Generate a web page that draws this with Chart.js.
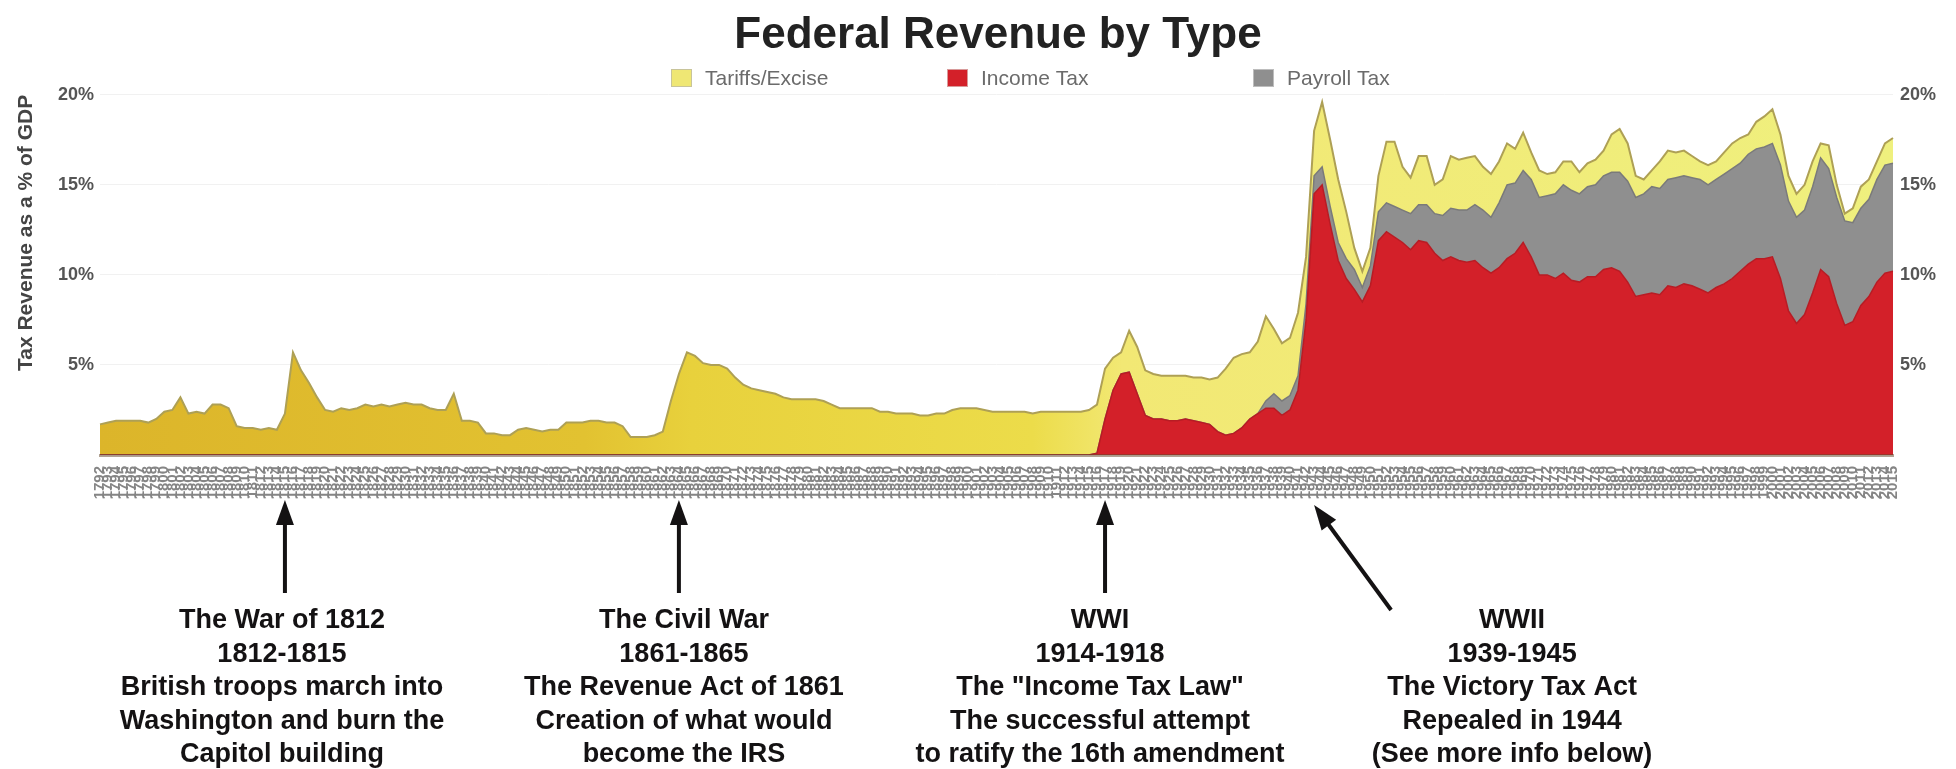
<!DOCTYPE html>
<html>
<head>
<meta charset="utf-8">
<script src="https://cdn.jsdelivr.net/npm/chart.js@4.4.1/dist/chart.umd.min.js"></script>
<style>
html,body{margin:0;padding:0;overflow:hidden;background:#fff;}
#wrap{width:1996px;height:769px;}
canvas{display:block;}
</style>
</head>
<body>
<div id="wrap"><canvas id="c" width="1996" height="769"></canvas></div>
<script>
// ---------- DATA ----------
const years = [
  1792,1793,1794,1795,1796,1797,1798,1799,
  1800,1801,1802,1803,1804,1805,1806,1807,1808,1809,
  1810,1811,1812,1813,1814,1815,1816,1817,1818,1819,
  1820,1821,1822,1823,1824,1825,1826,1827,1828,1829,
  1830,1831,1832,1833,1834,1835,1836,1837,1838,1839,
  1840,1841,1842,1843,1844,1845,1846,1847,1848,1849,
  1850,1851,1852,1853,1854,1855,1856,1857,1858,1859,
  1860,1861,1862,1863,1864,1865,1866,1867,1868,1869,
  1870,1871,1872,1873,1874,1875,1876,1877,1878,1879,
  1880,1881,1882,1883,1884,1885,1886,1887,1888,1889,
  1890,1891,1892,1893,1894,1895,1896,1897,1898,1899,
  1900,1901,1902,1903,1904,1905,1906,1907,1908,1909,
  1910,1911,1912,1913,1914,1915,1916,1917,1918,1919,
  1920,1921,1922,1923,1924,1925,1926,1927,1928,1929,
  1930,1931,1932,1933,1934,1935,1936,1937,1938,1939,
  1940,1941,1942,1943,1944,1945,1946,1947,1948,1949,
  1950,1951,1952,1953,1954,1955,1956,1957,1958,1959,
  1960,1961,1962,1963,1964,1965,1966,1967,1968,1969,
  1970,1971,1972,1973,1974,1975,1976,1977,1978,1979,
  1980,1981,1982,1983,1984,1985,1986,1987,1988,1989,
  1990,1991,1992,1993,1994,1995,1996,1997,1998,1999,
  2000,2001,2002,2003,2004,2005,2006,2007,2008,2009,
  2010,2011,2012,2013,2014,2015
];

// % of GDP
const tariffsExcise = [
  1.7,1.8,1.9,1.9,1.9,1.9,1.8,2.0,
  2.4,2.5,3.2,2.3,2.4,2.3,2.8,2.8,2.6,1.6,
  1.5,1.5,1.4,1.5,1.4,2.3,5.7,4.7,4.0,3.2,
  2.5,2.4,2.6,2.5,2.6,2.8,2.7,2.8,2.7,2.8,
  2.9,2.8,2.8,2.6,2.5,2.5,3.4,1.9,1.9,1.8,
  1.2,1.2,1.1,1.1,1.4,1.5,1.4,1.3,1.4,1.4,
  1.8,1.8,1.8,1.9,1.9,1.8,1.8,1.6,1.0,1.0,
  1.0,1.1,1.3,3.0,4.5,5.7,5.5,5.1,5.0,5.0,
  4.8,4.3,3.9,3.7,3.6,3.5,3.4,3.2,3.1,3.1,
  3.1,3.1,3.0,2.8,2.6,2.6,2.6,2.6,2.6,2.4,
  2.4,2.3,2.3,2.3,2.2,2.2,2.3,2.3,2.5,2.6,
  2.6,2.6,2.5,2.4,2.4,2.4,2.4,2.4,2.3,2.4,
  2.4,2.4,2.4,2.4,2.4,2.5,2.7,2.8,1.8,1.2,
  2.3,2.6,2.5,2.5,2.4,2.5,2.5,2.4,2.4,2.5,
  2.5,3.0,3.7,4.2,4.1,3.7,4.0,4.7,3.6,3.2,
  3.2,3.5,2.6,2.5,3.6,3.7,3.5,2.6,1.2,0.9,
  1.0,2.0,3.4,3.6,2.4,2.0,2.7,2.7,1.6,2.0,
  2.9,2.8,2.9,2.7,2.4,2.4,2.3,2.3,1.9,2.1,
  1.5,1.5,1.2,1.2,1.3,1.6,1.2,1.3,1.4,1.4,
  2.1,2.4,2.1,1.2,0.8,0.9,1.5,1.6,1.4,1.4,
  1.2,1.0,1.1,1.0,1.2,1.4,1.4,1.1,1.5,1.7,
  1.9,1.7,1.4,1.3,1.4,1.4,0.8,1.3,0.7,0.4,
  0.8,1.2,1.1,1.0,1.2,1.4
];

const incomeTax = [
  0,0,0,0,0,0,0,0,
  0,0,0,0,0,0,0,0,0,0,
  0,0,0,0,0,0,0,0,0,0,
  0,0,0,0,0,0,0,0,0,0,
  0,0,0,0,0,0,0,0,0,0,
  0,0,0,0,0,0,0,0,0,0,
  0,0,0,0,0,0,0,0,0,0,
  0,0,0,0,0,0,0,0,0,0,
  0,0,0,0,0,0,0,0,0,0,
  0,0,0,0,0,0,0,0,0,0,
  0,0,0,0,0,0,0,0,0,0,
  0,0,0,0,0,0,0,0,0,0,
  0,0,0,0,0,0,0.1,2.0,3.6,4.5,
  4.6,3.4,2.2,2.0,2.0,1.9,1.9,2.0,1.9,1.8,
  1.7,1.3,1.1,1.2,1.5,2.0,2.3,2.6,2.6,2.2,
  2.5,3.6,7.5,14.5,15.0,12.8,10.8,9.8,9.2,8.5,
  9.4,11.9,12.4,12.1,11.8,11.4,11.9,11.8,11.2,10.8,
  11.0,10.8,10.7,10.8,10.4,10.1,10.4,10.9,11.2,11.8,
  11.0,10.0,10.0,9.8,10.1,9.7,9.6,9.9,9.9,10.3,
  10.4,10.2,9.6,8.8,8.9,9.0,8.9,9.4,9.3,9.5,
  9.4,9.2,9.0,9.3,9.5,9.8,10.2,10.6,10.9,10.9,
  11.0,9.8,8.0,7.3,7.8,9.0,10.3,9.9,8.4,7.2,
  7.4,8.3,8.8,9.6,10.1,10.2
];

const payrollTax = [
  0,0,0,0,0,0,0,0,
  0,0,0,0,0,0,0,0,0,0,
  0,0,0,0,0,0,0,0,0,0,
  0,0,0,0,0,0,0,0,0,0,
  0,0,0,0,0,0,0,0,0,0,
  0,0,0,0,0,0,0,0,0,0,
  0,0,0,0,0,0,0,0,0,0,
  0,0,0,0,0,0,0,0,0,0,
  0,0,0,0,0,0,0,0,0,0,
  0,0,0,0,0,0,0,0,0,0,
  0,0,0,0,0,0,0,0,0,0,
  0,0,0,0,0,0,0,0,0,0,
  0,0,0,0,0,0,0,0,0,0,
  0,0,0,0,0,0,0,0,0,0,
  0,0,0,0,0,0,0,0.4,0.8,0.8,
  0.8,0.8,0.9,1.0,1.0,1.0,1.0,1.1,1.1,0.8,
  1.1,1.6,1.6,1.7,1.8,2.0,2.0,2.1,2.2,2.5,
  2.7,2.8,2.9,3.1,3.2,3.1,3.6,4.1,3.9,4.0,
  4.3,4.3,4.4,4.7,4.9,5.0,4.9,5.0,5.1,5.2,
  5.3,5.5,5.6,5.5,5.6,5.9,5.9,5.9,6.1,6.0,
  6.0,6.1,6.0,6.0,6.1,6.1,6.0,6.1,6.1,6.2,
  6.3,6.3,6.1,5.9,5.8,5.9,6.2,6.0,5.9,5.8,
  5.5,5.4,5.4,5.7,6.0,6.0
];

const seriesNames = ['Tariffs/Excise', 'Income Tax', 'Payroll Tax'];
const yTickValues = [5, 10, 15, 20];

const annotationYears = [1815, 1864, 1917, 1943];
const annotationTexts = [
  ['The War of 1812', '1812-1815', 'British troops march into', 'Washington and burn the', 'Capitol building'],
  ['The Civil War', '1861-1865', 'The Revenue Act of 1861', 'Creation of what would', 'become the IRS'],
  ['WWI', '1914-1918', 'The "Income Tax Law"', 'The successful attempt', 'to ratify the 16th amendment'],
  ['WWII', '1939-1945', 'The Victory Tax Act', 'Repealed in 1944', '(See more info below)']
];

// ---------- STYLE ----------
const FONT = "'Liberation Sans', Arial, Helvetica, sans-serif";
const COLORS = {
  excise: '#efe774', exciseBorder: '#aea055',
  income: '#d32029', incomeBorder: '#b81c24',
  payroll: '#8f8f8f', payrollBorder: '#7a7a7a'
};

function exciseFill(ctx) {
  const chart = ctx.chart;
  const area = chart.chartArea;
  if (!area) return COLORS.excise;
  const g = chart.ctx.createLinearGradient(area.left, 0, area.right, 0);
  g.addColorStop(0, '#dcb52a');
  g.addColorStop(0.27, '#e2c231');
  g.addColorStop(0.33, '#e8d13c');
  g.addColorStop(0.52, '#ecdc4a');
  g.addColorStop(0.57, '#f2e874');
  g.addColorStop(1, '#eff07e');
  return g;
}

// custom legend (drawn on canvas)
const legendPlugin = {
  id: 'customLegend',
  afterDraw(chart, args, opts) {
    const c = chart.ctx;
    c.save();
    c.font = `21px ${FONT}`;
    c.textBaseline = 'middle';
    c.textAlign = 'left';
    opts.items.forEach((it, i) => {
      const x = opts.xs[i];
      c.fillStyle = it.fill;
      c.fillRect(x, opts.y - 9, 21, 18);
      c.strokeStyle = it.stroke;
      c.lineWidth = 1;
      c.strokeRect(x + 0.5, opts.y - 8.5, 20, 17);
      c.fillStyle = '#6b6b6b';
      c.fillText(it.text, x + 34, opts.y + 1);
    });
    c.restore();
  }
};

// arrows + annotation text below the axis
const annotationPlugin = {
  id: 'warAnnotations',
  afterDraw(chart, args, opts) {
    const c = chart.ctx;
    const xs = chart.scales.x;
    c.save();
    c.fillStyle = '#141213';
    c.strokeStyle = '#141213';
    c.lineWidth = 4;
    annotationYears.forEach((yr, i) => {
      const idx = years.indexOf(yr);
      const xTip = xs.getPixelForValue(idx);
      const st = opts.styles[i];
      const tip = {x: xTip, y: st.tipY};
      const tail = {x: xTip + st.tailDx, y: st.tailY};
      const dx = tip.x - tail.x, dy = tip.y - tail.y;
      const len = Math.hypot(dx, dy);
      const ux = dx / len, uy = dy / len;
      const headLen = 25, headHalf = 9;
      const bx = tip.x - ux * headLen, by = tip.y - uy * headLen;
      c.beginPath();
      c.moveTo(tail.x, tail.y);
      c.lineTo(bx + ux * 2, by + uy * 2);
      c.stroke();
      c.beginPath();
      c.moveTo(tip.x, tip.y);
      c.lineTo(bx - uy * headHalf, by + ux * headHalf);
      c.lineTo(bx + uy * headHalf, by - ux * headHalf);
      c.closePath();
      c.fill();
      // text
      c.font = `bold 27px ${FONT}`;
      c.textAlign = 'center';
      c.textBaseline = 'middle';
      const cx = xTip + st.textDx;
      annotationTexts[i].forEach((line, k) => {
        c.fillText(line, cx, opts.firstLineY + k * opts.lineGap);
      });
    });
    c.restore();
  }
};

const tickFmt = v => (yTickValues.includes(v) ? v + '%' : '');

new Chart(document.getElementById('c'), {
  type: 'line',
  data: {
    labels: years,
    datasets: [
      {
        label: seriesNames[1], data: incomeTax,
        backgroundColor: COLORS.income, borderColor: COLORS.incomeBorder,
        borderWidth: 1.5, fill: 'origin', pointRadius: 0, tension: 0
      },
      {
        label: seriesNames[2], data: payrollTax,
        backgroundColor: COLORS.payroll, borderColor: COLORS.payrollBorder,
        borderWidth: 1.5, fill: '-1', pointRadius: 0, tension: 0
      },
      {
        label: seriesNames[0], data: tariffsExcise,
        backgroundColor: exciseFill, borderColor: COLORS.exciseBorder,
        borderWidth: 2, fill: '-1', pointRadius: 0, tension: 0
      }
    ]
  },
  options: {
    responsive: false,
    animation: false,
    layout: { padding: { left: 0, right: 0, top: 0, bottom: 268 } },
    plugins: {
      legend: { display: false },
      tooltip: { enabled: false },
      title: {
        display: true,
        text: 'Federal Revenue by Type',
        color: '#222',
        font: { family: FONT, size: 44, weight: 'bold' },
        padding: { top: 9, bottom: 33 }
      },
      customLegend: {
        y: 78,
        xs: [671, 947, 1253],
        items: [
          { text: seriesNames[0], fill: COLORS.excise, stroke: '#c8c49a' },
          { text: seriesNames[1], fill: COLORS.income, stroke: '#d89a9a' },
          { text: seriesNames[2], fill: COLORS.payroll, stroke: '#bdbdbd' }
        ]
      },
      warAnnotations: {
        firstLineY: 621,
        lineGap: 33.5,
        styles: [
          { tipY: 500, tailY: 593, tailDx: 0, textDx: -3 },
          { tipY: 500, tailY: 593, tailDx: 0, textDx: 5 },
          { tipY: 500, tailY: 593, tailDx: 0, textDx: -5 },
          { tipY: 505, tailY: 610, tailDx: 77, textDx: 198 }
        ]
      }
    },
    scales: {
      x: {
        type: 'category',
        offset: false,
        grid: { display: false },
        border: { display: true, color: 'rgba(100,70,40,0.5)', width: 3, z: 1 },
        ticks: {
          autoSkip: false, minRotation: 90, maxRotation: 90, padding: 3,
          color: '#858585', font: { family: FONT, size: 15, weight: 'bold' }
        },
        afterFit(s) { s.height = 46; }
      },
      y: {
        position: 'left',
        stacked: true,
        min: 0, max: 20,
        ticks: {
          stepSize: 5, padding: 6, callback: tickFmt,
          color: '#555', font: { family: FONT, size: 18, weight: 'bold' }
        },
        grid: { color: '#f1f1f1', drawTicks: false },
        border: { display: false },
        title: {
          display: true, text: 'Tax Revenue as a % of GDP', align: 'end',
          color: '#444', font: { family: FONT, size: 21, weight: 'bold' },
          padding: { top: 14, bottom: 0 }
        },
        afterFit(s) { s.width = 100; }
      },
      y2: {
        position: 'right',
        min: 0, max: 20,
        ticks: {
          stepSize: 5, padding: 7, callback: tickFmt,
          color: '#555', font: { family: FONT, size: 18, weight: 'bold' }
        },
        grid: { display: false, drawTicks: false },
        border: { display: false },
        afterFit(s) { s.width = 103; }
      }
    }
  },
  plugins: [legendPlugin, annotationPlugin]
});
</script>
</body>
</html>
